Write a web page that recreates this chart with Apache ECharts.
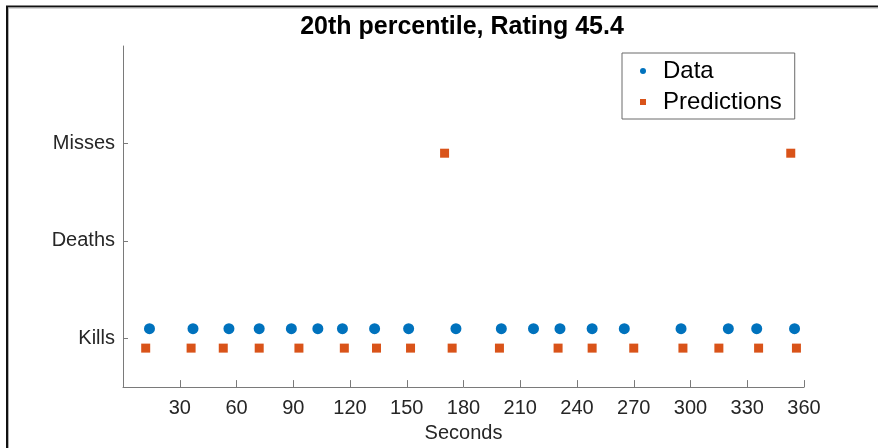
<!DOCTYPE html>
<html>
<head>
<meta charset="utf-8">
<title>20th percentile, Rating 45.4</title>
<script src="https://cdn.jsdelivr.net/npm/echarts@6/dist/echarts.min.js"></script>
<style>
  html, body { margin: 0; padding: 0; background: #fff; overflow: hidden; }
  #chart { width: 878px; height: 448px; }
</style>
</head>
<body>
<div id="chart"></div>
<script>
// Event rows on the y axis (row value = index + 1)
const eventLabels = ['Kills', 'Deaths', 'Misses'];

// Observed events: time (s) and event type
const dataSeconds = [14, 37, 56, 72, 89, 103, 116, 133, 151, 176, 200, 217, 231, 248, 265, 295, 320, 335, 355];
const dataEvents  = ['Kills', 'Kills', 'Kills', 'Kills', 'Kills', 'Kills', 'Kills', 'Kills', 'Kills', 'Kills',
                     'Kills', 'Kills', 'Kills', 'Kills', 'Kills', 'Kills', 'Kills', 'Kills', 'Kills'];

// Predicted events: time (s) and event type
const predSeconds = [12, 36, 53, 72, 93, 117, 134, 152, 170, 174, 199, 230, 248, 270, 296, 315, 336, 353, 356];
const predEvents  = ['Kills', 'Kills', 'Kills', 'Kills', 'Kills', 'Kills', 'Kills', 'Kills', 'Misses', 'Kills',
                     'Kills', 'Kills', 'Kills', 'Kills', 'Kills', 'Kills', 'Kills', 'Misses', 'Kills'];

// X tick values
const secondTicks = [30, 60, 90, 120, 150, 180, 210, 240, 270, 300, 330, 360];

// Small vertical nudge so the two sets sit just above / below each row
const DATA_NUDGE = 0.1;
const PRED_NUDGE = -0.1;

function rowOf(name) { return eventLabels.indexOf(name) + 1; }

const dataPoints = dataSeconds.map((s, i) => [s, rowOf(dataEvents[i]) + DATA_NUDGE]);
const predPoints = predSeconds.map((s, i) => [s, rowOf(predEvents[i]) + PRED_NUDGE]);

const FONT = '"Liberation Sans", Arial, Helvetica, sans-serif';
const AXIS_GRAY = '#7a7a7a';
const TEXT_GRAY = '#262626';

const chart = echarts.init(document.getElementById('chart'), null, { renderer: 'canvas', width: 878, height: 448 });

chart.setOption({
  backgroundColor: '#ffffff',
  animation: false,
  textStyle: { fontFamily: FONT },
  title: {
    text: '20th percentile, Rating 45.4',
    left: 462,
    top: 15,
    padding: 0,
    textAlign: 'center',
    textStyle: { fontFamily: FONT, fontSize: 25, fontWeight: 'bold', color: '#000', lineHeight: 25 }
  },
  legend: {
    orient: 'vertical',
    left: 622,
    top: 53,
    padding: [6, 13, 5, 18],
    itemWidth: 6,
    itemHeight: 6,
    itemGap: 7,
    borderColor: '#6a6a6a',
    borderWidth: 1,
    backgroundColor: '#fff',
    textStyle: { fontFamily: FONT, fontSize: 24, lineHeight: 24, color: '#000', padding: [0, 0, 0, 12] },
    data: [
      { name: 'Data', icon: 'circle' },
      { name: 'Predictions', icon: 'rect' }
    ]
  },
  grid: { left: 123, right: 74, top: 46, bottom: 57, containLabel: false },
  xAxis: {
    type: 'value',
    min: 0,
    max: 360,
    interval: 30,
    name: 'Seconds',
    nameLocation: 'middle',
    nameGap: 34,
    nameTextStyle: { fontFamily: FONT, fontSize: 20, color: TEXT_GRAY },
    axisLine: { show: true, lineStyle: { color: AXIS_GRAY, width: 1 } },
    axisTick: { show: true, inside: true, length: 7, customValues: secondTicks, lineStyle: { color: AXIS_GRAY } },
    axisLabel: { fontFamily: FONT, fontSize: 20, color: TEXT_GRAY, margin: 11, customValues: secondTicks },
    splitLine: { show: false }
  },
  yAxis: {
    type: 'value',
    min: 0.5,
    max: 4,
    interval: 0.5,
    axisLine: { show: true, lineStyle: { color: AXIS_GRAY, width: 1 } },
    axisTick: { show: true, inside: true, length: 5, customValues: [1, 2, 3], lineStyle: { color: AXIS_GRAY } },
    axisLabel: {
      fontFamily: FONT, fontSize: 20, color: TEXT_GRAY, margin: 8,
      customValues: [1, 2, 3],
      formatter: v => eventLabels[Math.round(v) - 1] || ''
    },
    splitLine: { show: false }
  },
  series: [
    {
      name: 'Data',
      type: 'scatter',
      symbol: 'circle',
      symbolSize: 11,
      itemStyle: { color: '#0072BD', opacity: 1 },
      data: dataPoints
    },
    {
      name: 'Predictions',
      type: 'scatter',
      symbol: 'rect',
      symbolSize: 9,
      itemStyle: { color: '#D95319', opacity: 1 },
      data: predPoints
    }
  ],
  graphic: [
    // figure frame (left and top edges)
    { type: 'rect', silent: true, shape: { x: 7, y: 6.5, width: 1000, height: 1000 },
      style: { fill: 'none', stroke: '#111', lineWidth: 2 } },
    { type: 'rect', silent: true, shape: { x: 8.5, y: 8, width: 1000, height: 1000 },
      style: { fill: 'none', stroke: '#b0b0b0', lineWidth: 1 } }
  ]
});
</script>
</body>
</html>
